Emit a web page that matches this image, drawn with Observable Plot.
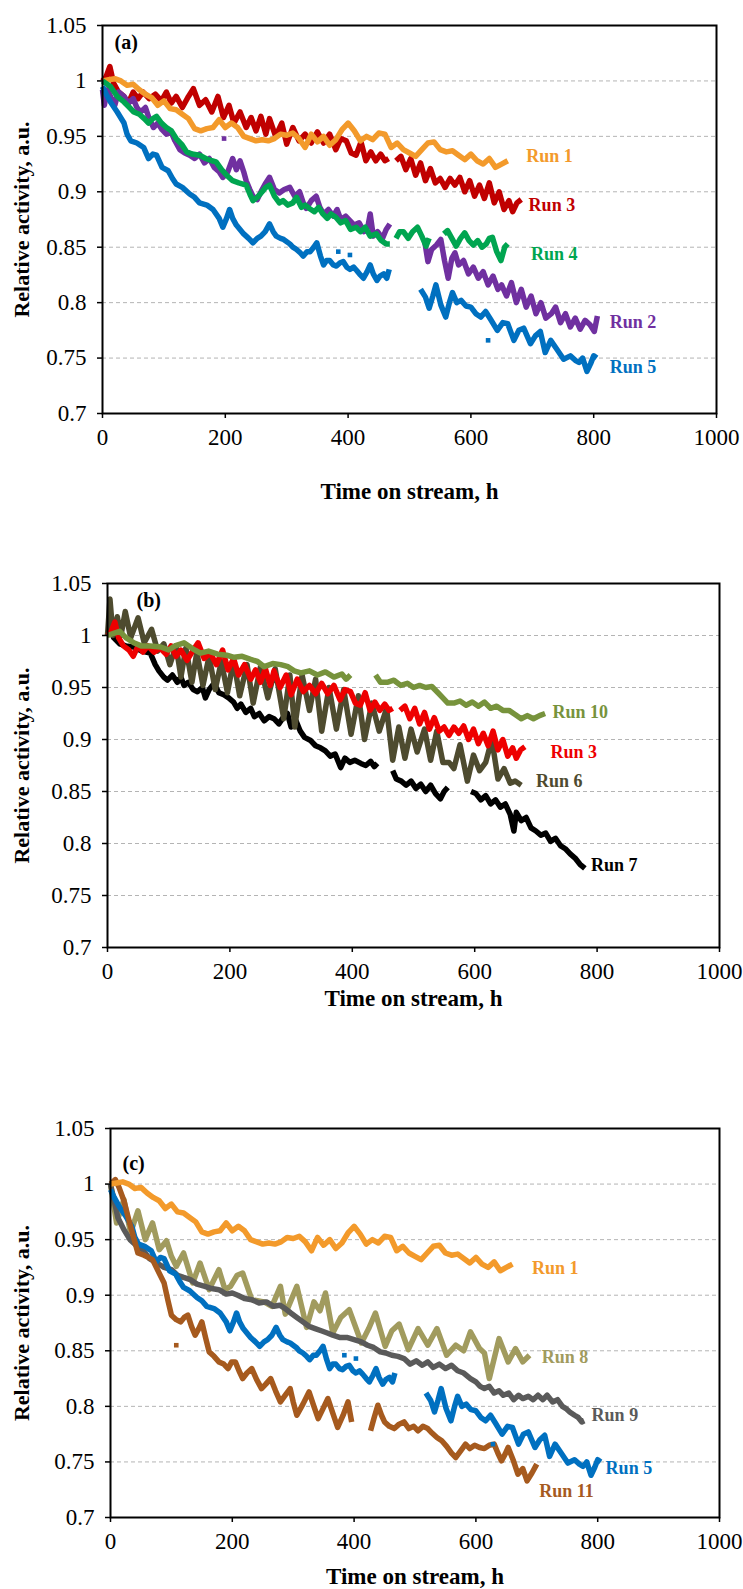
<!DOCTYPE html>
<html><head><meta charset="utf-8">
<script src="https://cdn.jsdelivr.net/npm/d3@7"></script>
<script src="https://cdn.jsdelivr.net/npm/@observablehq/plot@0.6"></script>
<style>html,body{margin:0;padding:0;background:#fff}#c{width:743px}#c svg{display:block}</style>
</head><body><div id="c"></div><script>
// ---------- axis ticks ----------
const yTicks = [0.7, 0.75, 0.8, 0.85, 0.9, 0.95, 1, 1.05];
const gridY = [0.75, 0.8, 0.85, 0.9, 0.95, 1];
const xTicks = [0, 200, 400, 600, 800, 1000];

// ---------- series: [time on stream h, relative activity] (null = gap) ----------
const run1 = [[0,1.000],[10,1.001],[20,1.002],[30,1.000],[40,0.996],[50,0.997],[60,0.992],[70,0.988],[80,0.985],[90,0.978],[100,0.982],[110,0.975],[120,0.974],[130,0.970],[140,0.966],[150,0.957],[160,0.955],[170,0.957],[180,0.958],[190,0.965],[200,0.958],[210,0.962],[220,0.958],[230,0.950],[240,0.948],[250,0.946],[260,0.947],[270,0.946],[280,0.948],[290,0.952],[300,0.951],[310,0.953],[320,0.948],[330,0.940],[340,0.952],[350,0.945],[360,0.950],[370,0.942],[380,0.947],[390,0.956],[400,0.962],[410,0.955],[420,0.946],[430,0.950],[440,0.947],[450,0.953],[460,0.952],[470,0.940],[480,0.944],[490,0.938],[500,0.935],[510,0.932],[520,0.938],[530,0.944],[540,0.945],[550,0.938],[560,0.936],[570,0.937],[580,0.933],[590,0.929],[600,0.934],[610,0.928],[620,0.925],[630,0.930],[640,0.922],[650,0.925],[660,0.928]];

const run2 = [[0,0.992],[3,0.978],[8,0.992],[14,0.985],[20,0.978],[26,0.990],[35,0.986],[42,0.980],[50,0.984],[56,0.976],[62,0.972],[70,0.976],[76,0.966],[83,0.958],[90,0.962],[97,0.956],[104,0.952],[111,0.955],[118,0.946],[126,0.938],[134,0.935],[142,0.933],[150,0.930],[158,0.934],[166,0.926],[174,0.930],[182,0.922],[190,0.918],[196,0.913],[204,0.918],[212,0.930],[218,0.920],[224,0.928],[230,0.918],[234,0.910],[240,0.902],[245,0.896],[252,0.893],[260,0.902],[266,0.908],[272,0.913],[280,0.902],[288,0.899],[296,0.902],[305,0.904],[313,0.896],[321,0.900],[327,0.890],[332,0.885],[340,0.892],[348,0.896],[354,0.886],[360,0.880],[368,0.884],[376,0.878],[382,0.884],[388,0.875],[396,0.878],[403,0.874],[410,0.870],[418,0.872],[426,0.864],[432,0.868],[436,0.880],[441,0.860],[448,0.864],[456,0.858],[462,0.866],[468,0.871],[472,null],[524,0.858],[530,0.837],[536,0.848],[544,0.852],[551,0.857],[557,0.838],[563,0.822],[569,0.840],[574,0.845],[580,0.834],[588,0.838],[596,0.826],[604,0.832],[612,0.822],[620,0.828],[628,0.816],[636,0.824],[644,0.812],[650,0.816],[658,0.806],[666,0.818],[674,0.800],[682,0.812],[690,0.796],[698,0.806],[706,0.790],[714,0.800],[722,0.786],[731,0.790],[738,0.796],[746,0.782],[754,0.790],[762,0.778],[770,0.786],[778,0.776],[786,0.784],[794,0.780],[801,0.774],[806,0.788]];

const run3 = [[0,1.000],[6,1.004],[12,1.013],[18,0.998],[26,0.990],[35,0.986],[42,0.980],[50,0.990],[58,0.984],[66,0.990],[76,0.984],[86,0.988],[96,0.982],[104,0.990],[112,0.980],[120,0.986],[130,0.976],[140,0.986],[148,0.993],[158,0.978],[168,0.983],[178,0.972],[188,0.986],[197,0.967],[206,0.978],[214,0.962],[224,0.972],[234,0.958],[242,0.967],[250,0.955],[258,0.968],[266,0.952],[272,0.966],[282,0.950],[292,0.962],[300,0.943],[310,0.958],[320,0.946],[330,0.952],[340,0.944],[350,0.954],[360,0.944],[370,0.952],[380,0.938],[388,0.948],[397,0.946],[405,0.935],[413,0.933],[421,0.945],[429,0.928],[437,0.936],[445,0.928],[453,0.934],[460,0.928],[466,0.930],[470,null],[478,0.928],[486,0.932],[494,0.920],[502,0.930],[510,0.915],[518,0.926],[526,0.910],[534,0.921],[542,0.908],[550,0.912],[558,0.904],[566,0.912],[574,0.906],[582,0.913],[590,0.900],[598,0.910],[606,0.896],[614,0.906],[622,0.894],[630,0.908],[638,0.890],[646,0.900],[654,0.884],[662,0.892],[668,0.882],[675,0.890],[682,0.893]];

const run4 = [[0,1.000],[13,0.995],[24,0.986],[35,0.981],[44,0.976],[51,0.972],[60,0.970],[68,0.966],[75,0.962],[82,0.966],[88,0.968],[96,0.962],[104,0.958],[112,0.955],[120,0.948],[130,0.942],[137,0.936],[146,0.934],[158,0.933],[168,0.930],[178,0.928],[185,0.927],[194,0.920],[204,0.914],[212,0.910],[222,0.908],[234,0.906],[240,0.898],[245,0.892],[252,0.895],[260,0.900],[266,0.904],[272,0.906],[280,0.896],[288,0.890],[294,0.892],[302,0.888],[310,0.890],[316,0.895],[324,0.886],[330,0.888],[337,0.885],[345,0.882],[352,0.886],[359,0.880],[366,0.876],[372,0.880],[380,0.877],[388,0.872],[396,0.874],[404,0.866],[413,0.868],[420,0.864],[428,0.868],[436,0.860],[446,0.862],[454,0.856],[462,0.853],[468,0.853],[472,null],[478,0.858],[484,0.864],[490,0.864],[498,0.858],[505,0.864],[513,0.868],[520,0.860],[527,0.851],[532,0.858],[536,null],[556,0.862],[562,0.865],[569,0.858],[576,0.851],[583,0.858],[590,0.863],[597,0.856],[604,0.852],[611,0.856],[618,0.850],[625,0.853],[630,0.858],[635,0.859],[642,0.846],[649,0.838],[655,0.850],[660,0.853]];

const run5 = [[0,0.995],[6,0.988],[13,0.981],[24,0.972],[35,0.962],[40,0.952],[46,0.946],[56,0.944],[67,0.940],[75,0.930],[82,0.934],[88,0.933],[97,0.922],[107,0.919],[114,0.912],[120,0.907],[130,0.904],[142,0.898],[150,0.895],[158,0.890],[170,0.888],[180,0.884],[190,0.876],[196,0.868],[202,0.876],[207,0.884],[212,0.876],[218,0.870],[230,0.862],[238,0.858],[245,0.854],[252,0.858],[258,0.860],[265,0.864],[272,0.871],[278,0.864],[283,0.860],[290,0.858],[295,0.857],[305,0.853],[310,0.850],[316,0.848],[322,0.845],[327,0.842],[333,0.846],[338,0.846],[344,0.850],[349,0.854],[355,0.842],[360,0.834],[365,0.838],[370,0.838],[376,0.834],[381,0.833],[387,0.836],[392,0.837],[398,0.832],[403,0.830],[409,0.832],[414,0.829],[420,0.825],[425,0.822],[431,0.828],[436,0.834],[441,0.826],[447,0.820],[452,0.824],[458,0.826],[463,0.822],[467,0.830],[470,null],[518,0.812],[526,0.805],[532,0.795],[538,0.806],[543,0.816],[551,0.798],[559,0.787],[565,0.800],[570,0.809],[577,0.800],[584,0.802],[592,0.797],[600,0.796],[608,0.790],[616,0.787],[624,0.792],[632,0.785],[643,0.775],[652,0.782],[660,0.781],[670,0.766],[678,0.775],[686,0.777],[697,0.763],[705,0.770],[713,0.774],[721,0.755],[730,0.766],[740,0.758],[751,0.749],[762,0.752],[770,0.748],[776,0.746],[782,0.750],[789,0.738],[795,0.745],[800,0.752],[805,0.750]];

const run6 = [[0,1.000],[4,1.035],[9,1.000],[16,1.018],[22,1.000],[29,1.023],[38,0.998],[50,1.017],[60,0.993],[72,1.006],[82,0.985],[92,0.992],[102,0.972],[112,0.990],[120,0.960],[128,0.988],[138,0.955],[146,0.984],[156,0.952],[166,0.980],[176,0.948],[186,0.975],[196,0.945],[206,0.976],[216,0.942],[228,0.972],[238,0.935],[250,0.970],[262,0.940],[274,0.968],[288,0.920],[298,0.962],[306,0.912],[318,0.962],[330,0.928],[340,0.958],[350,0.908],[362,0.950],[374,0.910],[386,0.948],[398,0.905],[410,0.942],[420,0.900],[432,0.935],[444,0.908],[456,0.930],[466,0.880],[476,0.912],[486,0.882],[496,0.910],[506,0.888],[518,0.910],[528,0.880],[538,0.908],[548,0.878],[558,0.878],[566,0.872],[576,0.895],[588,0.860],[598,0.885],[608,0.870],[618,0.878],[628,0.900],[638,0.862],[648,0.872],[658,0.858],[666,0.860],[676,0.856]];

const run7 = [[0,1.000],[5,1.012],[10,0.998],[20,0.992],[30,0.990],[43,0.989],[56,0.985],[70,0.983],[78,0.972],[84,0.966],[92,0.960],[98,0.957],[106,0.962],[114,0.955],[120,0.960],[125,0.952],[132,0.955],[140,0.948],[147,0.946],[155,0.950],[160,0.940],[166,0.948],[174,0.954],[182,0.945],[190,0.943],[198,0.940],[206,0.936],[212,0.930],[218,0.934],[226,0.926],[234,0.930],[240,0.922],[248,0.925],[256,0.918],[264,0.922],[272,0.920],[280,0.915],[288,0.922],[294,0.925],[300,0.912],[308,0.918],[315,0.908],[322,0.902],[332,0.899],[340,0.894],[348,0.892],[356,0.889],[364,0.884],[372,0.886],[381,0.873],[388,0.882],[396,0.878],[404,0.880],[414,0.877],[422,0.875],[430,0.879],[436,0.874],[441,0.877],[446,null],[466,0.870],[472,0.862],[480,0.860],[488,0.856],[496,0.860],[504,0.853],[512,0.857],[520,0.850],[528,0.856],[536,0.848],[544,0.843],[550,0.850],[556,0.854],[560,null],[594,0.850],[602,0.848],[610,0.842],[618,0.846],[626,0.838],[634,0.842],[642,0.835],[650,0.838],[658,0.828],[664,0.812],[668,0.830],[676,0.822],[684,0.825],[692,0.815],[700,0.812],[708,0.808],[716,0.810],[724,0.802],[732,0.805],[740,0.798],[748,0.795],[756,0.790],[764,0.786],[772,0.780],[780,0.776]];

const run8 = [[0,1.000],[10,0.965],[22,0.986],[33,0.956],[45,0.976],[57,0.950],[69,0.965],[80,0.941],[92,0.949],[100,0.935],[108,0.926],[120,0.938],[135,0.911],[147,0.929],[162,0.905],[178,0.923],[188,0.905],[197,0.908],[208,0.918],[217,0.920],[232,0.896],[252,0.894],[265,0.890],[279,0.908],[287,0.883],[306,0.908],[322,0.871],[334,0.894],[344,0.886],[353,0.902],[365,0.866],[378,0.880],[392,0.887],[412,0.857],[424,0.870],[435,0.884],[451,0.854],[462,0.868],[474,0.874],[489,0.851],[505,0.870],[521,0.855],[536,0.870],[552,0.846],[567,0.855],[580,0.850],[591,0.867],[606,0.852],[614,0.848],[622,0.825],[638,0.861],[653,0.840],[665,0.852],[677,0.840],[688,0.846]];

const run9 = [[0,1.000],[6,0.985],[12,0.970],[22,0.959],[32,0.950],[42,0.945],[53,0.941],[64,0.933],[76,0.929],[88,0.925],[100,0.923],[110,0.918],[120,0.916],[131,0.914],[142,0.910],[155,0.908],[166,0.906],[178,0.905],[190,0.901],[200,0.902],[209,0.900],[220,0.897],[232,0.896],[244,0.893],[256,0.894],[268,0.890],[278,0.891],[287,0.888],[296,0.884],[306,0.880],[316,0.876],[326,0.872],[336,0.870],[346,0.868],[356,0.866],[365,0.864],[376,0.862],[388,0.862],[400,0.860],[412,0.858],[422,0.855],[432,0.853],[443,0.849],[452,0.848],[462,0.846],[472,0.845],[482,0.843],[492,0.838],[502,0.841],[512,0.837],[521,0.840],[530,0.835],[540,0.838],[550,0.834],[560,0.837],[570,0.832],[580,0.830],[591,0.825],[600,0.822],[607,0.818],[614,0.816],[622,0.818],[630,0.812],[638,0.814],[645,0.810],[654,0.812],[662,0.806],[670,0.810],[677,0.807],[686,0.809],[694,0.806],[702,0.810],[710,0.806],[717,0.810],[726,0.804],[734,0.806],[742,0.800],[748,0.798],[754,0.795],[762,0.792],[768,0.790],[774,0.786],[778,0.787]];

const run10 = [[0,1.000],[10,1.002],[20,1.004],[30,0.998],[43,0.993],[55,0.990],[70,0.990],[87,0.989],[100,0.986],[110,0.990],[125,0.993],[140,0.987],[152,0.983],[165,0.985],[180,0.982],[195,0.981],[207,0.979],[220,0.980],[234,0.977],[245,0.975],[256,0.970],[270,0.973],[283,0.972],[295,0.970],[305,0.966],[316,0.964],[330,0.966],[343,0.962],[356,0.965],[370,0.960],[383,0.963],[390,0.958],[397,0.962],[400,null],[438,0.962],[446,0.955],[457,0.955],[468,0.957],[479,0.952],[490,0.954],[500,0.950],[510,0.952],[520,0.950],[530,0.951],[540,0.945],[548,0.940],[556,0.935],[566,0.935],[576,0.937],[586,0.933],[596,0.936],[606,0.932],[616,0.936],[626,0.930],[636,0.932],[646,0.928],[656,0.928],[666,0.924],[676,0.920],[686,0.923],[696,0.920],[706,0.923],[715,0.925]];

const run11 = [[0,1.000],[8,1.004],[14,0.997],[22,0.985],[30,0.968],[38,0.952],[45,0.938],[55,0.936],[62,0.934],[69,0.932],[78,0.922],[88,0.911],[94,0.896],[100,0.882],[108,0.878],[115,0.876],[121,0.880],[127,0.882],[133,0.872],[139,0.864],[145,0.870],[150,0.876],[156,0.862],[162,0.849],[170,0.845],[178,0.840],[186,0.838],[193,0.834],[199,0.840],[205,0.840],[211,0.832],[217,0.825],[224,0.830],[232,0.834],[240,0.824],[248,0.816],[255,0.820],[263,0.825],[271,0.814],[279,0.804],[287,0.810],[295,0.816],[300,0.804],[306,0.792],[316,0.802],[326,0.813],[334,0.800],[341,0.789],[349,0.798],[357,0.807],[365,0.794],[373,0.781],[382,0.792],[390,0.804],[396,0.786],[400,null],[427,0.778],[433,0.790],[439,0.801],[445,0.792],[450,0.786],[458,0.782],[466,0.780],[474,0.784],[482,0.786],[490,0.780],[498,0.782],[505,0.778],[513,0.782],[521,0.780],[528,0.776],[536,0.772],[544,0.769],[552,0.764],[560,0.758],[567,0.754],[575,0.760],[583,0.766],[590,0.762],[598,0.765],[606,0.763],[614,0.762],[622,0.765],[630,0.766],[636,0.758],[642,0.751],[648,0.757],[653,0.763],[661,0.752],[669,0.739],[677,0.744],[684,0.733],[692,0.740],[700,0.748]];

// isolated single readings
const run2Dots = [[198,0.948]];
const run5Dots = [[384,0.846],[403,0.843],[628,0.766]];
const run11Dots = [[108,0.855]];

// ---------- styling ----------
const C = {
  run1: "#F39A2B", run2: "#7030A0", run3a: "#C00000", run3b: "#EE0000", run4: "#00A550",
  run5: "#0070C0", run6: "#4E4B2F", run7: "#000000", run8: "#A19B5E", run9: "#5A5A5A",
  run10: "#77933C", run11: "#A65A1E"
};
const SERIF = "'Liberation Serif', 'Times New Roman', serif";

function panel(cfg) {
  const marks = [
    Plot.ruleY(gridY, {stroke: "#b4b4b4", strokeWidth: 1, strokeDasharray: "4,3"}),
    ...cfg.series.map(s => Plot.line(s.data, {
      x: d => d[0], y: d => d[1], stroke: s.color, strokeWidth: 5.5,
      strokeLinejoin: "round", strokeLinecap: "butt"
    })),
    ...(cfg.dots || []).map(s => Plot.dot(s.data, {
      x: d => d[0], y: d => d[1], symbol: "square", r: 2.6, fill: s.color, stroke: "none"
    })),
    Plot.frame({stroke: "#000", strokeWidth: 2}),
    Plot.axisY(yTicks, {tickSize: 5, tickPadding: 11, tickFormat: d => String(d),
      label: null, stroke: "#000", strokeWidth: 1.5, fill: "#000"}),
    Plot.axisX(xTicks, {tickSize: 5, tickPadding: 10, tickFormat: d => String(d),
      label: null, stroke: "#000", strokeWidth: 1.5, fill: "#000"}),
    Plot.text(["Relative activity, a.u."], {text: d => d, frameAnchor: "left", dx: 21 - cfg.ml,
      rotate: -90, textAnchor: "middle", lineAnchor: "middle", fontWeight: "bold", fontSize: 22, fill: "#000"}),
    Plot.text(["Time on stream, h"], {text: d => d, frameAnchor: "bottom", dy: cfg.titleOff,
      textAnchor: "middle", lineAnchor: "middle", fontWeight: "bold", fontSize: 23, fill: "#000"}),
    Plot.text([cfg.tag], {text: d => d, frameAnchor: "top-left", dx: cfg.tagDx, dy: cfg.tagDy,
      textAnchor: "start", lineAnchor: "middle", fontWeight: "bold", fontSize: 20, fill: "#000"}),
    ...cfg.labels.map(l => Plot.text([l], {x: d => d.t, y: d => d.v, text: d => d.name,
      textAnchor: "start", lineAnchor: "middle", fontWeight: "bold", fontSize: 18, fill: l.color}))
  ];
  return Plot.plot({
    width: 743, height: cfg.h,
    marginTop: cfg.mt, marginBottom: cfg.mb, marginLeft: cfg.ml, marginRight: cfg.mr,
    x: {domain: [0, 1000]}, y: {domain: [0.7, 1.05]},
    style: {fontFamily: SERIF, fontSize: "23px", color: "#000", background: "#fff", overflow: "visible"},
    marks
  });
}

const root = document.getElementById("c");

root.appendChild(panel({
  h: 530, mt: 25, mb: 117, ml: 102, mr: 27, titleOff: 78, tag: "(a)", tagDx: 12, tagDy: 17,
  series: [
    {data: run3, color: C.run3a}, {data: run1, color: C.run1}, {data: run2, color: C.run2},
    {data: run4, color: C.run4}, {data: run5, color: C.run5}
  ],
  dots: [{data: run2Dots, color: C.run2}, {data: run5Dots, color: C.run5}],
  labels: [
    {name: "Run 1", t: 690, v: 0.932, color: C.run1},
    {name: "Run 3", t: 694, v: 0.888, color: C.run3a},
    {name: "Run 4", t: 698, v: 0.844, color: C.run4},
    {name: "Run 2", t: 826, v: 0.782, color: C.run2},
    {name: "Run 5", t: 826, v: 0.742, color: C.run5}
  ]
}));

root.appendChild(panel({
  h: 530, mt: 53, mb: 113, ml: 107, mr: 24, titleOff: 51, tag: "(b)", tagDx: 29, tagDy: 17,
  series: [
    {data: run7, color: C.run7}, {data: run6, color: C.run6},
    {data: run3, color: C.run3b}, {data: run10, color: C.run10}
  ],
  dots: [],
  labels: [
    {name: "Run 10", t: 727, v: 0.926, color: C.run10},
    {name: "Run 3", t: 724, v: 0.888, color: C.run3b},
    {name: "Run 6", t: 700, v: 0.860, color: C.run6},
    {name: "Run 7", t: 790, v: 0.779, color: C.run7}
  ]
}));

root.appendChild(panel({
  h: 529, mt: 68, mb: 72, ml: 110, mr: 24, titleOff: 59, tag: "(c)", tagDx: 12, tagDy: 35,
  series: [
    {data: run8, color: C.run8}, {data: run9, color: C.run9}, {data: run5, color: C.run5},
    {data: run11, color: C.run11}, {data: run1, color: C.run1}
  ],
  dots: [{data: run5Dots, color: C.run5}, {data: run11Dots, color: C.run11}],
  labels: [
    {name: "Run 1", t: 692, v: 0.924, color: C.run1},
    {name: "Run 8", t: 708, v: 0.844, color: C.run8},
    {name: "Run 9", t: 790, v: 0.792, color: C.run9},
    {name: "Run 5", t: 813, v: 0.744, color: C.run5},
    {name: "Run 11", t: 704, v: 0.724, color: C.run11}
  ]
}));
</script></body></html>
